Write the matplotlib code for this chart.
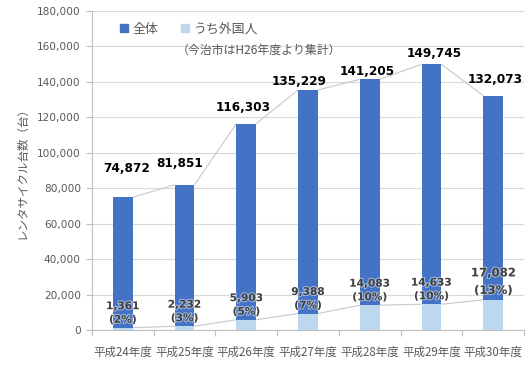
import matplotlib
matplotlib.use("Agg")
import matplotlib.pyplot as plt
from matplotlib.lines import Line2D
import matplotlib.patheffects as pe
import numpy as np

plt.rcParams['font.family'] = ['Noto Sans CJK JP', 'DejaVu Sans']

# ---- data ----
categories = ['平成24年度', '平成25年度', '平成26年度', '平成27年度', '平成28年度', '平成29年度', '平成30年度']
total = [74872, 81851, 116303, 135229, 141205, 149745, 132073]
foreign = [1361, 2232, 5903, 9388, 14083, 14633, 17082]
foreign_pct = [2, 3, 5, 7, 10, 10, 13]
series_names = ['全体', 'うち外国人']
note = '（今治市はH26年度より集計）'
ylabel = 'レンタサイクル台数（台）'
yticks = list(range(0, 180001, 20000))

# ---- styles ----
c_total = '#4472C4'
c_foreign = '#BDD7EE'
c_text = '#595959'
c_grid = '#D9D9D9'
c_axis = '#BFBFBF'
c_series_line = '#C8C8C8'
bar_w = 0.32
# manual label offsets (pixels) for total labels, as in the reference
total_label_offsets = [(3.5, 29), (-5, 21.5), (-3, 16.5), (-8.5, 9), (-2.5, 8), (3, 11), (2.5, 16)]

fig = plt.figure(figsize=(5.31, 3.72), dpi=100)
W, H = 531, 372
ax = fig.add_axes([92 / W, (H - 330.2) / H, (524 - 92) / W, (330.2 - 10.5) / H])

x = np.arange(len(categories))
rest = [t - f for t, f in zip(total, foreign)]
ax.bar(x, foreign, width=bar_w, color=c_foreign, zorder=3)
ax.bar(x, rest, width=bar_w, bottom=foreign, color=c_total, zorder=3)

# series lines (Excel style)
for vals in (total, foreign):
    for i in range(len(x) - 1):
        ax.plot([x[i] + bar_w / 2, x[i + 1] - bar_w / 2], [vals[i], vals[i + 1]],
                color=c_series_line, lw=0.8, zorder=2, solid_capstyle='butt')

ax.set_xlim(-0.5, len(x) - 0.5)
ax.set_ylim(0, 180000)
ax.set_yticks(yticks)
ax.set_yticklabels([f'{v:,}' for v in yticks], family=['DejaVu Sans'], fontsize=7.6, color=c_text)
ax.grid(axis='y', color=c_grid, lw=0.8, zorder=0)
ax.set_axisbelow(True)

ax.set_xticks(x)
ax.set_xticklabels(categories, fontsize=8.3, color=c_text)
ax.set_xticks(np.arange(-0.5, len(x), 1.0), minor=True)
ax.tick_params(axis='x', which='major', length=0, pad=11)
ax.tick_params(axis='x', which='minor', length=4, color=c_axis, width=0.8)
ax.tick_params(axis='y', length=4, color=c_axis, width=0.8, pad=4)

for s in ('top', 'right'):
    ax.spines[s].set_visible(False)
for s in ('left', 'bottom'):
    ax.spines[s].set_color(c_axis)
    ax.spines[s].set_linewidth(0.8)

ax.set_ylabel(ylabel, fontsize=8.3, color=c_text, labelpad=6)

# total labels
for i, t in enumerate(total):
    dx, dy = total_label_offsets[i]
    ax.annotate(f'{t:,}', (x[i], t), xytext=(dx, dy), textcoords='offset pixels',
                ha='center', va='center', fontsize=8.7, fontweight='bold',
                family=['DejaVu Sans'], color='black', zorder=5)

# foreign labels
for i, (f, p) in enumerate(zip(foreign, foreign_pct)):
    big = (i == len(foreign) - 1)
    ax.annotate(f'{f:,}\n({p}%)', (x[i], f), xytext=(0, 3), textcoords='offset pixels',
                ha='center', va='bottom', fontsize=8.4 if big else 7.6, fontweight='bold',
                family=['DejaVu Sans'], color='#404040', linespacing=1.45, zorder=5,
                path_effects=[pe.withStroke(linewidth=1.5, foreground='white', alpha=0.5)])

# legend
handles = [Line2D([], [], marker='s', ls='', color=c_total, markersize=5.5),
           Line2D([], [], marker='s', ls='', color=c_foreign, markersize=5.5)]
leg = fig.legend(handles, series_names, loc='center left', bbox_to_anchor=(119 / W, 1 - 29 / H),
                 ncol=2, frameon=False, fontsize=9.3, handlelength=0.7, handletextpad=0.35,
                 columnspacing=1.7, borderpad=0, borderaxespad=0)
for t in leg.get_texts():
    t.set_color(c_text)

fig.text(177 / W, 1 - 50 / H, note, fontsize=8.6, color=c_text, ha='left', va='center')

fig.savefig('out.png', dpi=100)
